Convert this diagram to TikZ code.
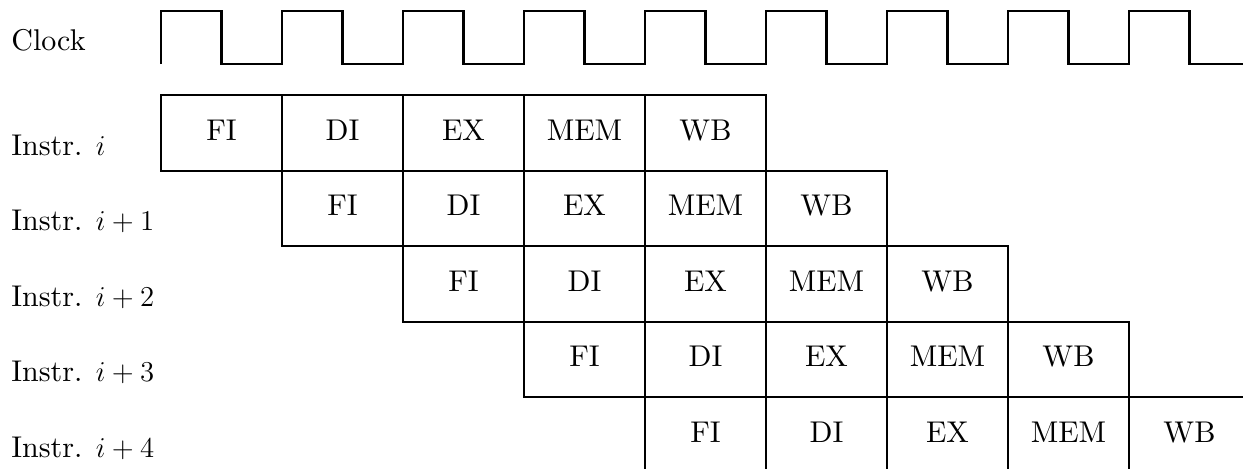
\documentclass[tikz,border=0pt]{standalone}
\usepackage{fontspec}
\setmainfont{lmroman10-regular.otf}
\tikzset{
  stagebox/.style={draw, line width=1pt, rectangle, anchor=north west,
    minimum width=60.5pt, minimum height=37.75pt, inner sep=0pt, outer sep=0pt,
    text height=10.25pt, text depth=3pt},
  rowlabel/.style={anchor=base west, inner sep=0pt},
  clockline/.style={line width=1.2pt, line join=miter}
}
\begin{document}
\begin{tikzpicture}[x=0.5pt, y=-0.5pt, font=\fontsize{15}{18}\selectfont]
\useasboundingbox (0,0) rectangle (1243,468);
\clip (0,0) rectangle (1243,468);
% clock label and waveform
\node[rowlabel] (clk) at (11,50) {Clock};
\coordinate (clkstart) at (161,64);
\draw[clockline] (clkstart) foreach \k in {0,...,8} {
  -- ({161+121*\k},11) -- ({221.5+121*\k},11) -- ({221.5+121*\k},64) -- ({282+121*\k},64) } -- (1260,64);
% instruction labels
\foreach \r/\t in {0/{Instr. $i$}, 1/{Instr. $i+1$}, 2/{Instr. $i+2$}, 3/{Instr. $i+3$}, 4/{Instr. $i+4$}} {
  \node[rowlabel] (lab\r) at (11,{95+75.5*\r+60.3}) {\t};
}
% pipeline stages
\foreach \r in {0,...,4} {
  \foreach \s/\n [count=\c from 0] in {FI/FI, DI/DI, EX/EX, MEM/MEM, WB/WB} {
    \node[stagebox] (st-\r-\c) at ({161+121*(\r+\c)},{95+75.5*\r}) {\n};
  }
}
\end{tikzpicture}
\end{document}
